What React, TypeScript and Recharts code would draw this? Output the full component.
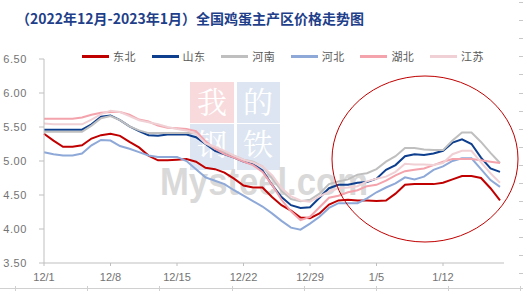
import * as React from "react";
import { LineChart, Line, XAxis, YAxis } from "recharts";

const dates = [
  "12/1", "12/2", "12/3", "12/4", "12/5", "12/6", "12/7", "12/8", "12/9", "12/10",
  "12/11", "12/12", "12/13", "12/14", "12/15", "12/16", "12/17", "12/18", "12/19", "12/20",
  "12/21", "12/22", "12/23", "12/24", "12/25", "12/26", "12/27", "12/28", "12/29", "12/30",
  "12/31", "1/1", "1/2", "1/3", "1/4", "1/5", "1/6", "1/7", "1/8", "1/9",
  "1/10", "1/11", "1/12", "1/13", "1/14", "1/15", "1/16", "1/17", "1/18",
];

const dongbei = [
  5.40, 5.30, 5.21, 5.21, 5.23, 5.33, 5.38, 5.40, 5.37, 5.28,
  5.20, 5.08, 5.01, 5.01, 5.02, 5.03, 4.99, 4.90, 4.88, 4.83,
  4.74, 4.64, 4.61, 4.61, 4.47, 4.35, 4.27, 4.17, 4.16, 4.23,
  4.36, 4.42, 4.43, 4.42, 4.42, 4.41, 4.42, 4.52, 4.65, 4.66,
  4.66, 4.66, 4.68, 4.73, 4.78, 4.78, 4.75, 4.60, 4.42,
];

const shandong = [
  5.46, 5.46, 5.46, 5.46, 5.46, 5.54, 5.65, 5.67, 5.60, 5.51,
  5.44, 5.38, 5.37, 5.39, 5.39, 5.39, 5.35, 5.25, 5.15, 5.10,
  5.05, 4.99, 4.95, 4.86, 4.65, 4.47, 4.35, 4.31, 4.32, 4.46,
  4.60, 4.65, 4.65, 4.68, 4.69, 4.74, 4.87, 4.94, 5.07, 5.10,
  5.09, 5.11, 5.15, 5.27, 5.32, 5.25, 5.05, 4.89, 4.84,
];

const henan = [
  5.43, 5.43, 5.43, 5.43, 5.43, 5.52, 5.63, 5.66, 5.60, 5.51,
  5.45, 5.41, 5.41, 5.41, 5.41, 5.41, 5.41, 5.26, 5.18, 5.13,
  5.08, 5.02, 4.99, 4.92, 4.75, 4.56, 4.44, 4.41, 4.43, 4.52,
  4.66, 4.70, 4.73, 4.80, 4.82, 4.88, 4.99, 5.07, 5.19, 5.19,
  5.17, 5.16, 5.16, 5.30, 5.42, 5.42, 5.28, 5.12, 4.97,
];

const hebei = [
  5.13, 5.10, 5.08, 5.08, 5.11, 5.23, 5.31, 5.30, 5.22, 5.18,
  5.13, 5.08, 5.06, 5.06, 5.06, 5.00, 4.88, 4.76, 4.71, 4.66,
  4.57, 4.49, 4.41, 4.33, 4.23, 4.12, 4.02, 3.99, 4.08, 4.18,
  4.31, 4.38, 4.38, 4.38, 4.45, 4.54, 4.61, 4.67, 4.76, 4.73,
  4.77, 4.87, 4.92, 5.00, 5.04, 5.04, 4.88, 4.72, 4.62,
];

const hubei = [
  5.62, 5.62, 5.62, 5.62, 5.64, 5.68, 5.71, 5.72, 5.72, 5.68,
  5.61, 5.58, 5.52, 5.49, 5.48, 5.47, 5.44, 5.29, 5.18, 5.10,
  5.05, 4.99, 4.94, 4.84, 4.65, 4.43, 4.26, 4.13, 4.18, 4.32,
  4.46, 4.49, 4.54, 4.57, 4.63, 4.65, 4.71, 4.79, 4.85, 4.87,
  4.89, 4.94, 4.99, 5.03, 5.03, 5.03, 5.01, 4.99, 4.97,
];

const jiangsu = [
  5.55, 5.54, 5.54, 5.54, 5.54, 5.61, 5.69, 5.74, 5.72, 5.66,
  5.60, 5.57, 5.54, 5.50, 5.47, 5.45, 5.40, 5.26, 5.21, 5.15,
  5.08, 5.02, 4.98, 4.92, 4.79, 4.60, 4.48, 4.42, 4.40, 4.48,
  4.55, 4.60, 4.61, 4.63, 4.70, 4.74, 4.77, 4.84, 4.96, 4.95,
  4.95, 4.94, 4.97, 5.10, 5.15, 5.15, 4.98, 4.82, 4.68,
];

const yTicks = [3.5, 4.0, 4.5, 5.0, 5.5, 6.0, 6.5];

const SERIES = [
  { key: "dongbei", name: "东北", color: "#C00000", values: dongbei },
  { key: "shandong", name: "山东", color: "#0E3F8E", values: shandong },
  { key: "henan", name: "河南", color: "#BFBFBF", values: henan },
  { key: "hebei", name: "河北", color: "#8EA9D8", values: hebei },
  { key: "hubei", name: "湖北", color: "#F4A3AC", values: hubei },
  { key: "jiangsu", name: "江苏", color: "#F0D0D4", values: jiangsu },
];

const data = dates.map((date, i) => {
  const row: Record<string, string | number> = { date };
  for (const s of SERIES) row[s.key] = s.values[i];
  return row;
});

const AXIS = "#BFBFBF";
const TICK_TEXT = "#737373";
const NUM_FONT = "'Liberation Sans', Arial, sans-serif";
const CJK_FONT = "'Noto Sans CJK SC', 'Noto Sans', sans-serif";

// faint site watermark sitting behind the lines
function Watermark() {
  return (
    <svg width={523} height={291} style={{ position: "absolute", left: 0, top: 0 }}>
      <rect x={190} y={82} width={44} height={41} fill="#F8DADC" />
      <rect x={237} y={82} width={43} height={41} fill="#DCE5F1" />
      <rect x={190} y={124} width={44} height={46} fill="#DCE5F1" />
      <rect x={237} y={124} width={43} height={46} fill="#DCE5F1" />
      <g fill="#FFFFFF" fontFamily="'Noto Serif CJK SC', 'Noto Sans CJK SC', serif" fontSize={30} textAnchor="middle">
        <text x={212} y={113}>我</text>
        <text x={258} y={113}>的</text>
        <text x={212} y={155}>钢</text>
        <text x={258} y={155}>铁</text>
      </g>
      <text
        x={160}
        y={195}
        fontFamily={NUM_FONT}
        fontWeight="bold"
        fontSize={38}
        fill="#D9D9D9"
        textLength={208}
        lengthAdjust="spacingAndGlyphs"
      >
        Mysteel.com
      </text>
    </svg>
  );
}

function Decor() {
  const dashes: number[] = [];
  for (let y = 2; y < 291; y += 18.1) dashes.push(Math.round(y) + 0.5);
  const marks = [15, 87, 159, 232, 304, 376, 448, 520];
  return (
    <svg width={523} height={291} style={{ position: "absolute", left: 0, top: 0, pointerEvents: "none" }}>
      <ellipse cx={425} cy={159} rx={93} ry={83} fill="none" stroke="#C00000" strokeWidth={1} />
      <line x1={0} x2={523} y1={288.5} y2={288.5} stroke="#D0D0D0" />
      {marks.map((x) => (
        <line key={x} x1={x + 0.5} x2={x + 0.5} y1={286} y2={291} stroke="#D0D0D0" />
      ))}
      {dashes.map((y) => (
        <line key={y} x1={519} x2={523} y1={y} y2={y} stroke="#C8C8C8" />
      ))}
    </svg>
  );
}

function ChartLegend() {
  return (
    <div style={{ position: "absolute", left: 82, top: 49, display: "flex", height: 14 }}>
      {SERIES.map((s) => (
        <div key={s.key} style={{ width: 69.6, display: "flex", alignItems: "center" }}>
          <span style={{ display: "inline-block", width: 27, height: 3, background: s.color }} />
          <span
            style={{
              marginLeft: 4,
              fontFamily: CJK_FONT,
              fontSize: 11,
              color: "#595959",
              lineHeight: "14px",
              letterSpacing: 0.5,
            }}
          >
            {s.name}
          </span>
        </div>
      ))}
    </div>
  );
}

export default function App() {
  return (
    <div
      style={{
        position: "absolute",
        left: 0,
        top: 0,
        width: 523,
        height: 291,
        background: "#FFFFFF",
        overflow: "hidden",
      }}
    >
      <Watermark />
      <div
        style={{
          position: "absolute",
          left: 16,
          top: 8,
          fontFamily: CJK_FONT,
          fontWeight: "bold",
          fontSize: 14,
          lineHeight: "20px",
          color: "#1F3F8A",
          whiteSpace: "nowrap",
        }}
      >
        （2022年12月-2023年1月）全国鸡蛋主产区价格走势图
      </div>
      <div style={{ position: "absolute", left: 0, top: 0 }}>
        <LineChart width={523} height={291} data={data} margin={{ top: 59, right: 19, bottom: 8, left: 0 }}>
          <XAxis
            dataKey="date"
            interval={6}
            height={20}
            padding={{ left: 0, right: 4 }}
            stroke={AXIS}
            tickSize={3}
            tickMargin={7}
            tick={{ fontSize: 11, fill: TICK_TEXT, fontFamily: NUM_FONT }}
          />
          <YAxis
            domain={[3.5, 6.5]}
            ticks={yTicks}
            width={44}
            stroke={AXIS}
            tickSize={5}
            tickMargin={12}
            tickFormatter={(v: number) => v.toFixed(2)}
            tick={{ fontSize: 11, fill: TICK_TEXT, fontFamily: NUM_FONT, letterSpacing: 0.6 }}
          />
          {SERIES.map((s) => (
            <Line
              key={s.key}
              type="linear"
              dataKey={s.key}
              name={s.name}
              stroke={s.color}
              strokeWidth={2}
              dot={false}
              isAnimationActive={false}
            />
          ))}
        </LineChart>
      </div>
      <ChartLegend />
      <Decor />
    </div>
  );
}
